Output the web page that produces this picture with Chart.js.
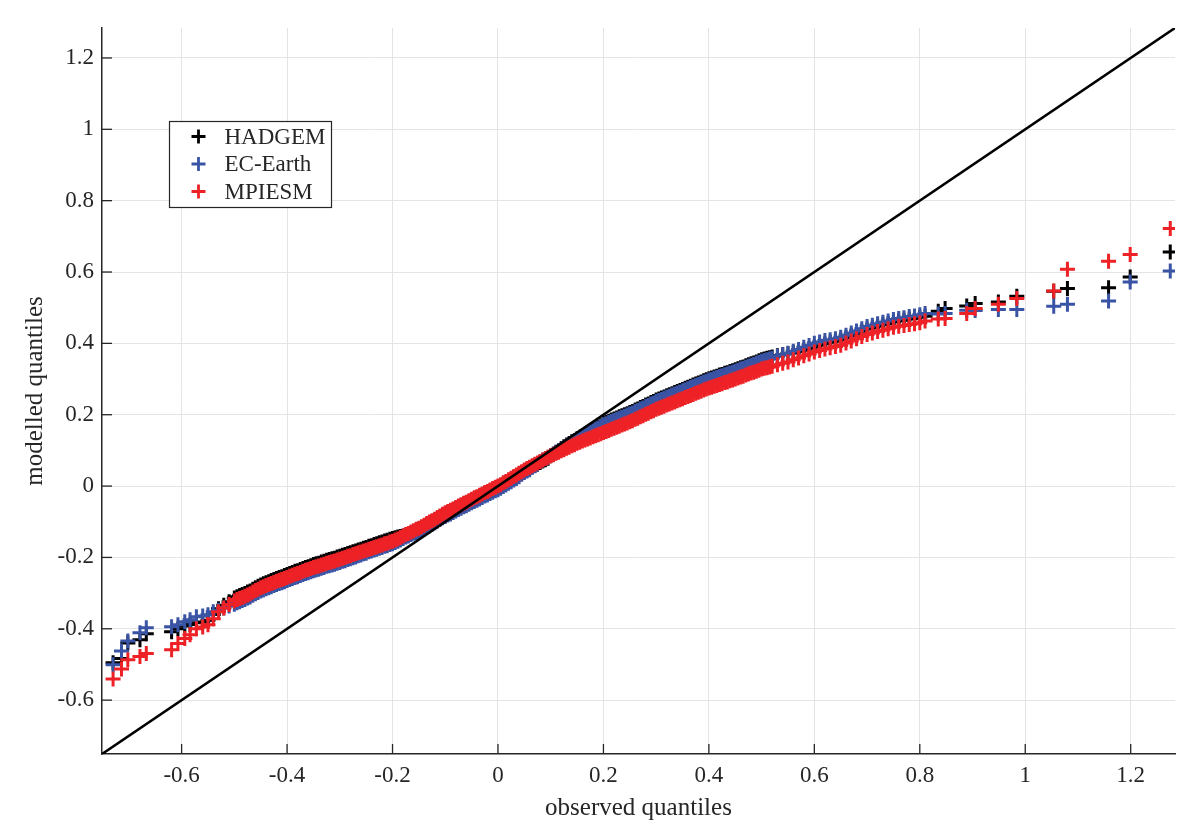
<!DOCTYPE html>
<html><head><meta charset="utf-8">
<script src="https://cdn.jsdelivr.net/npm/chart.js@4.4.0/dist/chart.umd.min.js"></script>
<style>html,body{margin:0;padding:0;background:#fff;}#wrap{width:1200px;height:840px;}</style>
</head><body><div id="wrap"><canvas id="c" width="1200" height="840"></canvas></div>
<script>
const seriesNames = ['HADGEM', 'EC-Earth', 'MPIESM'];
const seriesColors = ['#000000', '#3a54a5', '#ee2226'];

const observedQ = [
 -0.730,-0.714,-0.702,-0.679,-0.667,-0.619,-0.607,-0.594,-0.584,-0.572,-0.560,-0.550,-0.540,
 -0.53,-0.52,-0.51,
 -0.500,-0.495,-0.490,-0.485,-0.480,-0.475,-0.470,-0.465,-0.460,-0.455,
 -0.450,-0.445,-0.440,-0.435,-0.430,-0.425,-0.420,-0.415,-0.410,-0.405,
 -0.400,-0.395,-0.390,-0.385,-0.380,-0.375,-0.370,-0.365,-0.360,-0.355,
 -0.350,-0.345,-0.340,-0.335,-0.330,-0.325,-0.320,-0.315,-0.310,-0.305,
 -0.300,-0.295,-0.290,-0.285,-0.280,-0.275,-0.270,-0.265,-0.260,-0.255,
 -0.250,-0.245,-0.240,-0.235,-0.230,-0.225,-0.220,-0.215,-0.210,-0.205,
 -0.200,-0.195,-0.190,-0.185,-0.180,-0.175,-0.170,-0.165,-0.160,-0.155,
 -0.150,-0.145,-0.140,-0.135,-0.130,-0.125,-0.120,-0.115,-0.110,-0.105,
 -0.100,-0.095,-0.090,-0.085,-0.080,-0.075,-0.070,-0.065,-0.060,-0.055,
 -0.050,-0.045,-0.040,-0.035,-0.030,-0.025,-0.020,-0.015,-0.010,-0.005,
 0.000,0.005,0.010,0.015,0.020,0.025,0.030,0.035,0.040,0.045,
 0.050,0.055,0.060,0.065,0.070,0.075,0.080,0.085,0.090,0.095,
 0.100,0.105,0.110,0.115,0.120,0.125,0.130,0.135,0.140,0.145,
 0.150,0.155,0.160,0.165,0.170,0.175,0.180,0.185,0.190,0.195,
 0.200,0.205,0.210,0.215,0.220,0.225,0.230,0.235,0.240,0.245,
 0.250,0.255,0.260,0.265,0.270,0.275,0.280,0.285,0.290,0.295,
 0.300,0.305,0.310,0.315,0.320,0.325,0.330,0.335,0.340,0.345,
 0.350,0.355,0.360,0.365,0.370,0.375,0.380,0.385,0.390,0.395,
 0.400,0.405,0.410,0.415,0.420,0.425,0.430,0.435,0.440,0.445,
 0.450,0.455,0.460,0.465,0.470,0.475,0.480,0.485,0.490,0.495,
 0.500,0.505,0.510,0.515,0.520,
 0.53,0.54,0.55,0.56,0.57,0.58,0.59,0.60,0.61,0.62,
 0.63,0.64,0.65,0.66,0.67,0.68,0.69,0.70,0.71,0.72,
 0.73,0.74,0.75,0.76,0.77,0.78,0.79,0.80,
 0.81,0.835,0.848,0.889,0.905,0.949,0.984,1.054,1.080,1.158,1.199,1.275
];

const hadgemQ = [
 -0.495,-0.483,-0.440,-0.431,-0.414,-0.408,-0.400,-0.392,-0.388,-0.383,-0.381,-0.376,-0.360,
 -0.344,-0.334,-0.324,
 -0.314,-0.310,-0.307,-0.304,-0.301,-0.297,-0.294,-0.289,-0.285,-0.281,
 -0.277,-0.274,-0.271,-0.268,-0.265,-0.262,-0.259,-0.256,-0.254,-0.251,
 -0.248,-0.245,-0.242,-0.239,-0.237,-0.234,-0.231,-0.228,-0.226,-0.223,
 -0.220,-0.218,-0.216,-0.213,-0.211,-0.208,-0.206,-0.204,-0.202,-0.199,
 -0.197,-0.194,-0.192,-0.189,-0.187,-0.184,-0.182,-0.179,-0.177,-0.174,
 -0.172,-0.169,-0.167,-0.164,-0.162,-0.159,-0.157,-0.154,-0.152,-0.149,
 -0.147,-0.145,-0.143,-0.141,-0.140,-0.138,-0.136,-0.132,-0.128,-0.124,
 -0.121,-0.117,-0.113,-0.108,-0.104,-0.100,-0.096,-0.091,-0.087,-0.082,
 -0.078,-0.074,-0.071,-0.067,-0.063,-0.059,-0.055,-0.051,-0.048,-0.044,
 -0.040,-0.036,-0.033,-0.029,-0.025,-0.021,-0.018,-0.014,-0.010,-0.006,
 -0.003,0.001,0.006,0.010,0.015,0.019,0.024,0.028,0.033,0.037,
 0.042,0.046,0.050,0.054,0.058,0.062,0.066,0.070,0.074,0.078,
 0.085,0.089,0.095,0.099,0.105,0.110,0.115,0.119,0.124,0.128,
 0.133,0.137,0.141,0.145,0.149,0.153,0.157,0.161,0.165,0.169,
 0.176,0.179,0.182,0.185,0.188,0.191,0.194,0.197,0.200,0.203,
 0.206,0.209,0.213,0.216,0.220,0.223,0.227,0.230,0.234,0.237,
 0.241,0.244,0.247,0.250,0.253,0.256,0.259,0.262,0.265,0.268,
 0.271,0.274,0.277,0.280,0.283,0.286,0.289,0.292,0.295,0.298,
 0.301,0.303,0.306,0.308,0.311,0.313,0.316,0.318,0.321,0.323,
 0.326,0.329,0.332,0.334,0.337,0.340,0.343,0.345,0.348,0.351,
 0.354,0.356,0.358,0.360,0.362,
 0.365,0.368,0.371,0.374,0.377,0.381,0.385,0.390,0.395,0.399,
 0.403,0.406,0.410,0.416,0.422,0.428,0.434,0.440,0.444,0.448,
 0.452,0.456,0.460,0.463,0.465,0.468,0.470,0.473,
 0.476,0.490,0.498,0.505,0.512,0.516,0.532,0.546,0.554,0.556,0.586,0.656
];

const ecEarthQ = [
 -0.501,-0.462,-0.434,-0.411,-0.397,-0.394,-0.389,-0.380,-0.375,-0.366,-0.364,-0.361,-0.352,
 -0.348,-0.342,-0.336,
 -0.331,-0.327,-0.324,-0.321,-0.318,-0.314,-0.311,-0.306,-0.302,-0.298,
 -0.294,-0.291,-0.288,-0.285,-0.282,-0.279,-0.276,-0.273,-0.271,-0.268,
 -0.265,-0.262,-0.259,-0.256,-0.254,-0.251,-0.248,-0.245,-0.243,-0.240,
 -0.237,-0.235,-0.233,-0.230,-0.228,-0.225,-0.223,-0.221,-0.219,-0.216,
 -0.214,-0.211,-0.209,-0.206,-0.204,-0.201,-0.199,-0.195,-0.193,-0.190,
 -0.188,-0.184,-0.182,-0.179,-0.177,-0.174,-0.172,-0.169,-0.167,-0.164,
 -0.162,-0.158,-0.155,-0.151,-0.147,-0.143,-0.140,-0.136,-0.132,-0.131,
 -0.128,-0.124,-0.120,-0.115,-0.111,-0.107,-0.103,-0.098,-0.094,-0.089,
 -0.085,-0.081,-0.078,-0.074,-0.070,-0.066,-0.062,-0.058,-0.055,-0.051,
 -0.047,-0.043,-0.040,-0.036,-0.032,-0.028,-0.025,-0.021,-0.017,-0.013,
 -0.010,-0.006,-0.001,0.003,0.008,0.012,0.017,0.021,0.026,0.033,
 0.038,0.042,0.046,0.053,0.057,0.061,0.069,0.073,0.077,0.081,
 0.086,0.090,0.095,0.099,0.104,0.108,0.113,0.117,0.122,0.126,
 0.131,0.135,0.139,0.143,0.147,0.151,0.155,0.159,0.163,0.167,
 0.172,0.175,0.178,0.181,0.184,0.187,0.190,0.193,0.196,0.199,
 0.202,0.205,0.209,0.212,0.216,0.219,0.223,0.226,0.230,0.233,
 0.237,0.240,0.243,0.246,0.249,0.252,0.255,0.258,0.261,0.264,
 0.267,0.270,0.273,0.276,0.279,0.282,0.285,0.288,0.291,0.294,
 0.297,0.299,0.302,0.304,0.307,0.309,0.312,0.314,0.317,0.319,
 0.322,0.325,0.328,0.330,0.333,0.336,0.339,0.341,0.344,0.347,
 0.350,0.352,0.354,0.356,0.358,
 0.364,0.368,0.372,0.378,0.383,0.389,0.394,0.400,0.404,0.408,
 0.410,0.413,0.417,0.423,0.429,0.435,0.441,0.447,0.451,0.455,
 0.459,0.463,0.467,0.470,0.472,0.475,0.477,0.480,
 0.484,0.482,0.484,0.493,0.492,0.495,0.495,0.504,0.510,0.519,0.572,0.603
];

const mpiesmQ = [
 -0.541,-0.513,-0.487,-0.478,-0.469,-0.459,-0.441,-0.427,-0.417,-0.400,-0.395,-0.389,-0.372,
 -0.352,-0.342,-0.332,
 -0.322,-0.318,-0.315,-0.312,-0.309,-0.305,-0.302,-0.297,-0.293,-0.289,
 -0.285,-0.282,-0.279,-0.276,-0.273,-0.270,-0.267,-0.264,-0.262,-0.259,
 -0.256,-0.253,-0.250,-0.247,-0.245,-0.242,-0.239,-0.236,-0.234,-0.231,
 -0.228,-0.226,-0.224,-0.221,-0.219,-0.216,-0.214,-0.212,-0.210,-0.207,
 -0.205,-0.202,-0.200,-0.197,-0.195,-0.192,-0.190,-0.187,-0.185,-0.182,
 -0.180,-0.177,-0.175,-0.172,-0.170,-0.167,-0.165,-0.162,-0.160,-0.157,
 -0.155,-0.151,-0.148,-0.144,-0.140,-0.136,-0.133,-0.129,-0.125,-0.121,
 -0.118,-0.114,-0.110,-0.105,-0.101,-0.097,-0.093,-0.088,-0.084,-0.079,
 -0.075,-0.071,-0.068,-0.064,-0.060,-0.056,-0.052,-0.048,-0.045,-0.041,
 -0.037,-0.033,-0.030,-0.026,-0.022,-0.018,-0.015,-0.011,-0.007,-0.003,
 0.000,0.004,0.009,0.013,0.018,0.022,0.027,0.031,0.036,0.040,
 0.045,0.049,0.053,0.057,0.061,0.065,0.069,0.073,0.077,0.081,
 0.085,0.088,0.092,0.095,0.099,0.102,0.106,0.109,0.113,0.116,
 0.120,0.123,0.126,0.129,0.132,0.135,0.138,0.141,0.144,0.147,
 0.150,0.153,0.156,0.159,0.162,0.165,0.168,0.171,0.174,0.177,
 0.180,0.183,0.187,0.190,0.194,0.197,0.201,0.204,0.208,0.211,
 0.215,0.218,0.221,0.224,0.227,0.230,0.233,0.236,0.239,0.242,
 0.245,0.248,0.251,0.254,0.257,0.260,0.263,0.266,0.269,0.272,
 0.275,0.277,0.280,0.282,0.285,0.287,0.290,0.292,0.295,0.297,
 0.300,0.303,0.306,0.308,0.311,0.314,0.317,0.319,0.322,0.325,
 0.328,0.330,0.332,0.334,0.336,
 0.340,0.344,0.348,0.354,0.359,0.365,0.370,0.376,0.380,0.384,
 0.388,0.391,0.395,0.401,0.407,0.413,0.419,0.425,0.429,0.433,
 0.437,0.441,0.445,0.448,0.450,0.453,0.455,0.458,
 0.463,0.468,0.470,0.484,0.498,0.510,0.526,0.547,0.608,0.630,0.649,0.722
];

const tickValues = [-0.6, -0.4, -0.2, 0, 0.2, 0.4, 0.6, 0.8, 1, 1.2];
const tickLabels = ['-0.6', '-0.4', '-0.2', '0', '0.2', '0.4', '0.6', '0.8', '1', '1.2'];
const axisMin = -0.751, axisMax = 1.284;
const refLine = [axisMin, axisMax];

const FONT = "'Liberation Serif', 'Times New Roman', serif";
const INK = '#262626';

function pts(ys) { return observedQ.map((x, i) => ({ x: x, y: ys[i] })); }

const inwardTicks = {
  id: 'inwardTicks',
  beforeDatasetsDraw(chart) {
    const { ctx, chartArea: a, scales: { x, y } } = chart;
    ctx.save();
    ctx.strokeStyle = INK; ctx.lineWidth = 1.3;
    x.ticks.forEach(t => { const px = x.getPixelForValue(t.value); ctx.beginPath(); ctx.moveTo(px, a.bottom); ctx.lineTo(px, a.bottom - 10); ctx.stroke(); });
    y.ticks.forEach(t => { const py = y.getPixelForValue(t.value); ctx.beginPath(); ctx.moveTo(a.left, py); ctx.lineTo(a.left + 10, py); ctx.stroke(); });
    ctx.restore();
  }
};

const legendBox = {
  id: 'legendBox',
  afterDraw(chart) {
    const { ctx, chartArea: a } = chart;
    const x0 = a.left + 67.5, y0 = a.top + 93.5, w = 162, h = 86;
    ctx.save();
    ctx.fillStyle = '#ffffff';
    ctx.fillRect(x0, y0, w, h);
    ctx.strokeStyle = INK; ctx.lineWidth = 1.2;
    ctx.strokeRect(x0, y0, w, h);
    ctx.font = '23px ' + FONT;
    ctx.textBaseline = 'middle'; ctx.textAlign = 'left';
    seriesNames.forEach((name, i) => {
      const cy = y0 + 15 + i * 27.5;
      const cx = x0 + 29;
      ctx.strokeStyle = seriesColors[i]; ctx.lineWidth = 2.8;
      ctx.beginPath();
      ctx.moveTo(cx - 7, cy); ctx.lineTo(cx + 7, cy);
      ctx.moveTo(cx, cy - 7); ctx.lineTo(cx, cy + 7);
      ctx.stroke();
      ctx.fillStyle = INK;
      ctx.fillText(name, x0 + 55, cy + 1);
    });
    ctx.restore();
  }
};

const markerDs = (idx, ys, order) => ({
  type: 'scatter',
  label: seriesNames[idx],
  data: pts(ys),
  pointStyle: 'cross',
  pointRadius: 7.5,
  borderColor: seriesColors[idx],
  backgroundColor: seriesColors[idx],
  borderWidth: 3,
  showLine: false,
  order: order
});

const axisCommon = (titleText, isX) => ({
  type: 'linear',
  min: axisMin, max: axisMax,
  afterBuildTicks: s => { s.ticks = tickValues.map(v => ({ value: v })); },
  ticks: {
    callback: (v, i) => tickLabels[i],
    font: { family: FONT, size: 23 },
    color: INK,
    padding: 8,
    maxRotation: 0, autoSkip: false
  },
  grid: { color: '#e4e4e4', lineWidth: 1, drawTicks: false },
  border: { display: true, color: INK, width: 1.5 },
  title: {
    display: true, text: titleText,
    font: { family: FONT, size: 25 },
    color: INK,
    padding: isX ? { top: 0, bottom: 17 } : { top: 20, bottom: 0 }
  },
  afterFit: s => { if (isX) s.height = 86; else s.width = 102; }
});

new Chart(document.getElementById('c'), {
  type: 'scatter',
  data: {
    datasets: [
      { type: 'line', label: 'y = x', data: refLine.map(v => ({ x: v, y: v })), borderColor: '#000000', borderWidth: 2.6, pointRadius: 0, fill: false, order: 0 },
      markerDs(2, mpiesmQ, 1),
      markerDs(1, ecEarthQ, 2),
      markerDs(0, hadgemQ, 3)
    ]
  },
  options: {
    responsive: false,
    animation: false,
    events: [],
    layout: { padding: { top: 28, right: 25, left: 0, bottom: 0 } },
    plugins: { legend: { display: false }, tooltip: { enabled: false } },
    scales: {
      x: axisCommon('observed quantiles', true),
      y: axisCommon('modelled quantiles', false)
    }
  },
  plugins: [inwardTicks, legendBox]
});
</script>
</body></html>
